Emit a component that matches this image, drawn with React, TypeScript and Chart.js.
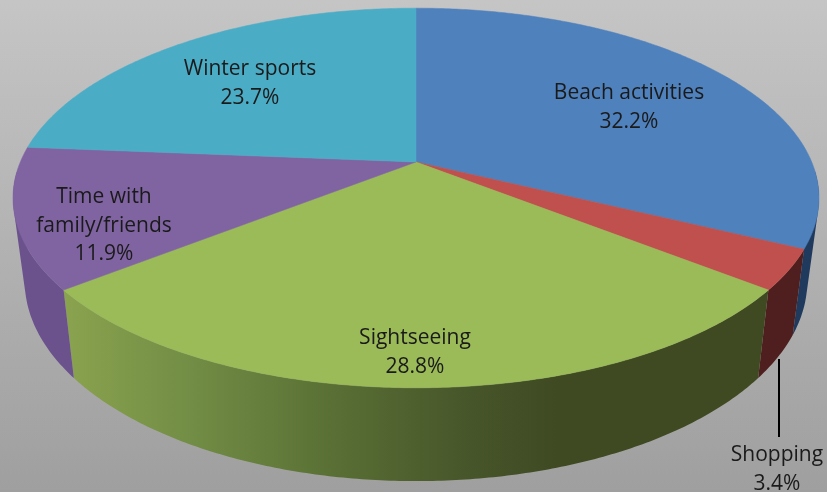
import React, { useEffect, useRef } from "react";
import { Chart, registerables } from "chart.js";

Chart.register(...registerables);

const categories = ["Beach activities", "Shopping", "Sightseeing", "Time with family/friends", "Winter sports"];
const shares = [32.2, 3.4, 28.8, 11.9, 23.7];
const topColors = ["#4f81bd", "#c0504d", "#9bbb59", "#8064a2", "#4bacc6"];
const sideColors = ["#1f3a5c", "#4f1f1f", "#3f4a23", "#6b528c", "#2f6b7c"];
const labelLines = [["Beach activities"], ["Shopping"], ["Sightseeing"], ["Time with", "family/friends"], ["Winter sports"]];
const labelAnchors = [[629, 93.5], [777, 455.5], [415, 338.5], [104, 197.5], [250, 69.5]];

const W = 827;
const H = 492;
const CX = 416;
const CY = 162;
const RX = 395.7;
const RY = 183;
const K = 0.1895;
const LOW_CY = 243;
const LOW_RX = 384.2;
const LOW_RY = 193;
const FRONT_FROM = 1.62;
const FRONT_TO = 4.66;

const rim = (theta: number, cy: number, rx: number, ry: number): [number, number] => {
  const u = Math.sin(theta);
  const v = Math.cos(theta);
  const w = 1 / (1 + K * v);
  return [CX + rx * u * w, cy - ry * v * w];
};
const project = (theta: number) => rim(theta, CY, RX, RY);
const lower = (theta: number) => rim(theta, LOW_CY, LOW_RX, LOW_RY);

const pie3d = {
  id: "pie3d",
  beforeDraw(chart: any) {
    const { ctx } = chart;
    const g = ctx.createLinearGradient(0, 0, 0, H);
    g.addColorStop(0, "#c5c5c5");
    g.addColorStop(1, "#9f9f9f");
    ctx.save();
    ctx.fillStyle = g;
    ctx.fillRect(0, 0, W, H);
    ctx.restore();
  },
  beforeDatasetDraw(chart: any, args: any) {
    const { ctx } = chart;
    const arcs = args.meta.data;
    const ranges = arcs.map((a: any) => {
      const p = a.getProps(["startAngle", "endAngle"], true);
      return [p.startAngle + Math.PI / 2, p.endAngle + Math.PI / 2];
    });
    ctx.save();
    arcs.forEach((_: any, i: number) => {
      const a0 = Math.max(ranges[i][0], FRONT_FROM);
      const a1 = Math.min(ranges[i][1], FRONT_TO);
      if (a1 <= a0) return;
      let fill: any = sideColors[i];
      if (i === 2) {
        const g = ctx.createLinearGradient(64, 0, 768, 0);
        g.addColorStop(0, "#8aa34f");
        g.addColorStop(0.18, "#728d45");
        g.addColorStop(0.39, "#586e34");
        g.addColorStop(0.58, "#47552a");
        g.addColorStop(0.7, "#3f4a23");
        g.addColorStop(1, "#3f4a22");
        fill = g;
      }
      ctx.fillStyle = fill;
      const steps = Math.ceil((a1 - a0) / 0.01);
      ctx.beginPath();
      for (let s = 0; s < steps; s++) {
        const t0 = a0 + ((a1 - a0) * s) / steps;
        const t1 = a0 + ((a1 - a0) * (s + 1)) / steps;
        const quad = [project(t0), project(t1), lower(t1), lower(t0)];
        let area = 0;
        quad.forEach((a, n) => {
          const b = quad[(n + 1) % 4];
          area += a[0] * b[1] - b[0] * a[1];
        });
        const ordered = area < 0 ? [...quad].reverse() : quad;
        ctx.moveTo(ordered[0][0], ordered[0][1]);
        ctx.lineTo(ordered[1][0], ordered[1][1]);
        ctx.lineTo(ordered[2][0], ordered[2][1]);
        ctx.lineTo(ordered[3][0], ordered[3][1]);
        ctx.closePath();
      }
      ctx.fill();
    });
    arcs.forEach((arc: any, i: number) => {
      const [a0, a1] = ranges[i];
      const steps = Math.ceil((a1 - a0) / 0.01);
      ctx.beginPath();
      ctx.moveTo(CX, CY);
      for (let s = 0; s <= steps; s++) {
        const p = project(a0 + ((a1 - a0) * s) / steps);
        ctx.lineTo(p[0], p[1]);
      }
      ctx.closePath();
      ctx.fillStyle = arc.options.backgroundColor;
      ctx.strokeStyle = arc.options.backgroundColor;
      ctx.lineWidth = 0.5;
      ctx.fill();
      ctx.stroke();
    });
    ctx.restore();
    return false;
  },
  afterDatasetsDraw(chart: any) {
    const { ctx } = chart;
    const values = chart.data.datasets[0].data;
    ctx.save();
    ctx.strokeStyle = "#000000";
    ctx.lineWidth = 2;
    ctx.beginPath();
    ctx.moveTo(779, 359);
    ctx.lineTo(779, 437);
    ctx.stroke();
    ctx.fillStyle = "#1a1a1a";
    ctx.font = '21px "Open Sans"';
    ctx.textAlign = "center";
    ctx.textBaseline = "middle";
    labelLines.forEach((lines, i) => {
      const [x, y] = labelAnchors[i];
      const all = [...lines, values[i].toFixed(1) + "%"];
      all.forEach((t, j) => ctx.fillText(t, x, y + j * 28.5));
    });
    ctx.restore();
  },
};

export default function App() {
  const ref = useRef<HTMLCanvasElement>(null);
  useEffect(() => {
    const chart = new Chart(ref.current!, {
      type: "pie",
      data: {
        labels: categories,
        datasets: [{ data: shares, backgroundColor: topColors, borderWidth: 0 }],
      },
      options: {
        responsive: false,
        animation: false,
        plugins: { legend: { display: false }, tooltip: { enabled: false } },
      },
      plugins: [pie3d],
    } as any);
    return () => chart.destroy();
  }, []);
  return (
    <div style={{ position: "fixed", left: 0, top: 0, width: W, height: H }}>
      <canvas ref={ref} width={W} height={H} style={{ display: "block" }} />
    </div>
  );
}
